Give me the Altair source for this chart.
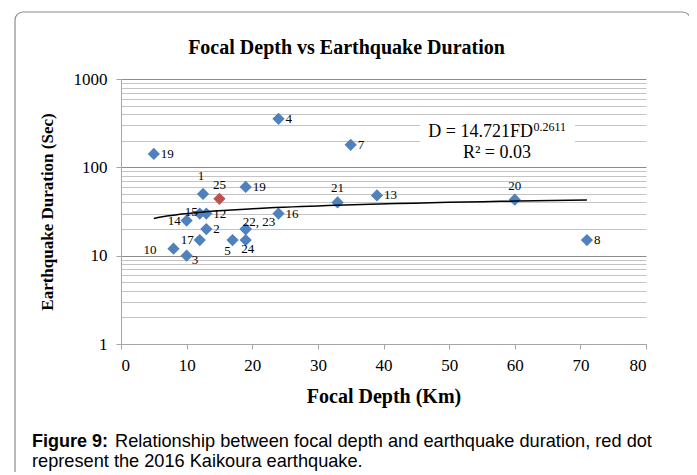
import altair as alt
import pandas as pd

# ---- data ----
depth = [5, 24, 35, 12.5, 15, 19, 33, 39, 24, 12, 13, 10, 13, 19, 19, 12, 17, 19, 8, 10, 60, 71]
duration = [142, 354, 180, 50, 44, 60, 40, 48, 30, 30, 30, 25, 20, 20, 20, 15, 15, 15, 12, 10, 43, 15]
labels = ["19", "4", "7", "1", "25", "19", "21", "13", "16", "15", "12", "14", "2",
          "22, 23", "", "17", "5", "24", "10", "3", "20", "8"]
label_side = ["r", "r", "r", "al", "a", "r", "a", "r", "r", "l2", "r", "l", "r",
              "ar", "r", "l", "bl", "b", "ll", "br", "a", "r"]
kaikoura_label = "25"

x_ticks = [0, 10, 20, 30, 40, 50, 60, 70, 80]
decades = [1, 10, 100, 1000]
y_grid = [m * d for d in [1, 10, 100] for m in range(1, 10)] + [1000]

df = pd.DataFrame({
    "depth": depth,
    "duration": duration,
    "label": labels,
    "side": label_side,
    "event": ["Kaikoura 2016" if l == kaikoura_label else "other" for l in labels],
})

SERIF = "Liberation Serif"
SANS = "Liberation Sans"
BLUE = "#4f81bd"
RED = "#c0504d"

decade_test = " || ".join(f"datum.value == {d}" for d in decades)

x_enc = alt.X(
    "depth:Q",
    scale=alt.Scale(domain=[0, 80], nice=False),
    axis=alt.Axis(
        values=x_ticks, title="Focal Depth (Km)", grid=False,
        domainColor="#a6a6a6", tickColor="#a6a6a6", tickSize=5,
        labelFont=SERIF, labelFontSize=17, labelColor="black", labelPadding=8,
        titleFont=SERIF, titleFontSize=20, titleFontWeight="bold", titleColor="black",
        titlePadding=13,
    ),
)
y_enc = alt.Y(
    "duration:Q",
    scale=alt.Scale(type="log", domain=[1, 1000], nice=False),
    axis=alt.Axis(
        values=y_grid, title="Earthquake Duration (Sec)",
        labelExpr=f"({decade_test}) ? '' + datum.value : ''",
        grid=True,
        gridColor={"condition": {"test": decade_test, "value": "#8c8c8c"}, "value": "#c4c4c4"},
        gridWidth=1,
        domainColor="#a6a6a6",
        tickColor={"condition": {"test": decade_test, "value": "#a6a6a6"}, "value": "transparent"},
        tickSize=5,
        labelFont=SERIF, labelFontSize=17, labelColor="black", labelPadding=9,
        titleFont=SERIF, titleFontSize=17, titleFontWeight="bold", titleColor="black",
        titlePadding=17,
    ),
)

base = alt.Chart(df)

points = base.mark_point(shape="diamond", filled=True, size=150, opacity=1).encode(
    x=x_enc, y=y_enc,
    color=alt.Color("event:N", scale=alt.Scale(domain=["other", "Kaikoura 2016"], range=[BLUE, RED]), legend=None),
    order=alt.Order("event:N", sort="descending"),
)

trend = base.transform_regression(
    "depth", "duration", method="pow", extent=[5, 71]
).mark_line(color="black", strokeWidth=1.5).encode(x="depth:Q", y="duration:Q")

side_style = {
    "r": dict(dx=7, dy=0, align="left"),
    "a": dict(dx=0, dy=-14, align="center"),
    "al": dict(dx=-2, dy=-18, align="center"),
    "l": dict(dx=-6, dy=0, align="right"),
    "l2": dict(dx=-2, dy=-2, align="right"),
    "ll": dict(dx=-17, dy=1, align="right"),
    "ar": dict(dx=-3, dy=-7, align="left"),
    "b": dict(dx=2, dy=9, align="center"),
    "bl": dict(dx=-5, dy=11, align="center"),
    "br": dict(dx=5, dy=4, align="left"),
}
label_layers = []
for side, st in side_style.items():
    label_layers.append(
        base.transform_filter(alt.datum.side == side).mark_text(
            font=SERIF, fontSize=13, color="black", baseline="middle", **st
        ).encode(x="depth:Q", y="duration:Q", text="label:N")
    )

# annotation: equation box
eq_box = alt.Chart(pd.DataFrame({"k": [0]})).mark_rect(fill="white", stroke=None).encode(
    x=alt.value(299), x2=alt.value(454), y=alt.value(38), y2=alt.value(82)
)
eq1 = alt.Chart(pd.DataFrame({"t": ["D = 14.721FD"]})).mark_text(
    font=SERIF, fontSize=18, align="right", baseline="alphabetic", color="black"
).encode(x=alt.value(412), y=alt.value(57.5), text="t:N")
eq_sup = alt.Chart(pd.DataFrame({"t": ["0.2611"]})).mark_text(
    font=SERIF, fontSize=12, align="left", baseline="alphabetic", color="black"
).encode(x=alt.value(412.5), y=alt.value(52), text="t:N")
eq2 = alt.Chart(pd.DataFrame({"t": ["R² = 0.03"]})).mark_text(
    font=SERIF, fontSize=18, align="center", baseline="alphabetic", color="black"
).encode(x=alt.value(376), y=alt.value(79), text="t:N")

# chart title
title = alt.Chart(pd.DataFrame({"t": ["Focal Depth vs Earthquake Duration"]})).mark_text(
    font=SERIF, fontSize=20, fontWeight="bold", align="center", baseline="alphabetic", color="black"
).encode(x=alt.value(225.5), y=alt.value(-25), text="t:N")

# figure frame
frame = alt.Chart(pd.DataFrame({"k": [0]})).mark_rect(
    fill="transparent", stroke="#8c8c8c", strokeWidth=1.2, cornerRadius=8
).encode(x=alt.value(-106), x2=alt.value(569.5), y=alt.value(-67), y2=alt.value(430))

# caption
cap_bold = alt.Chart(pd.DataFrame({"t": ["Figure 9:"]})).mark_text(
    font=SANS, fontSize=18, fontWeight="bold", align="left", baseline="alphabetic", color="black"
).encode(x=alt.value(-89), y=alt.value(367.5), text="t:N")
cap1 = alt.Chart(pd.DataFrame({"t": ["Relationship between focal depth and earthquake duration, red dot"]})).mark_text(
    font=SANS, fontSize=18.2, align="left", baseline="alphabetic", color="black"
).encode(x=alt.value(-6), y=alt.value(367.5), text="t:N")
cap2 = alt.Chart(pd.DataFrame({"t": ["represent the 2016 Kaikoura earthquake."]})).mark_text(
    font=SANS, fontSize=18.2, align="left", baseline="alphabetic", color="black"
).encode(x=alt.value(-89), y=alt.value(387.5), text="t:N")

chart = alt.layer(
    frame, title, eq_box, points, trend, eq1, eq_sup, eq2, *label_layers, cap_bold, cap1, cap2
).properties(
    width=525, height=265,
    padding={"left": 113, "top": 71, "right": 43, "bottom": 128},
    autosize=alt.AutoSizeParams(type="none"),
    background="white",
).configure_view(stroke=None)

chart.save("out.html", embed_options={"renderer": "svg", "actions": False})
